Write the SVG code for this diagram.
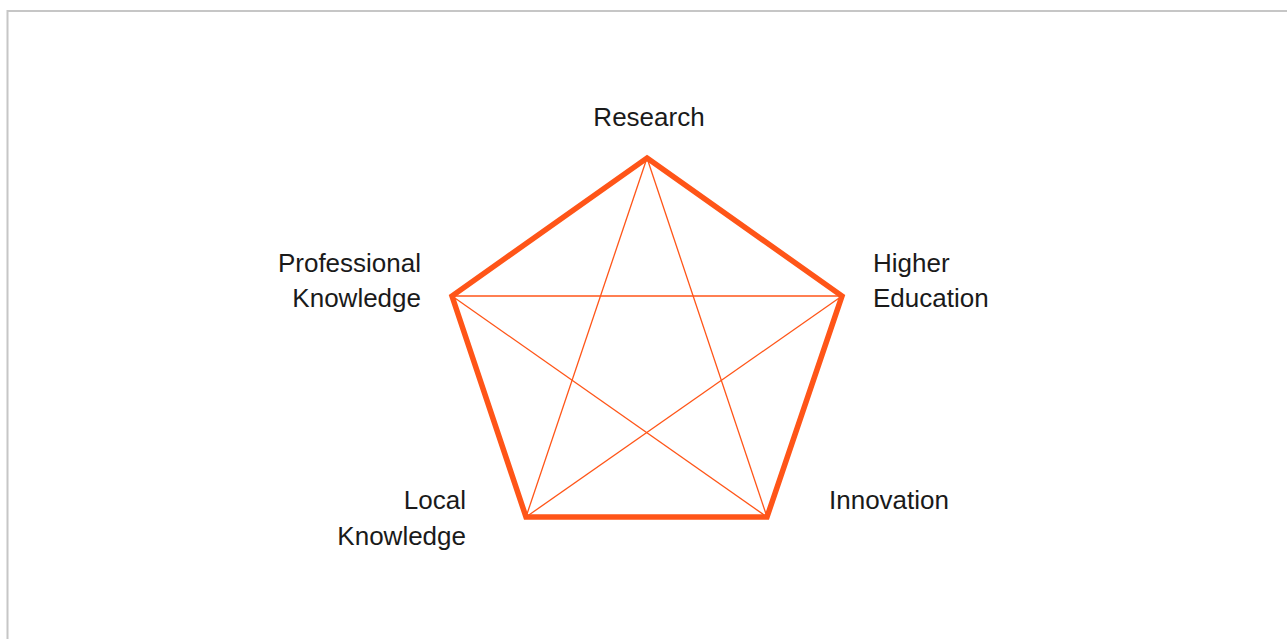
<svg xmlns="http://www.w3.org/2000/svg" width="1287" height="639" viewBox="0 0 1287 639">
<style>
.lbl{font-family:"Liberation Sans",Arial,sans-serif;font-size:26px;fill:#1a1a1a}
.thick{fill:none;stroke:#ff5518;stroke-width:5.5;stroke-linejoin:miter}
.thin{stroke:#ff5518;stroke-width:1.3;fill:none}
</style>
<rect x="0" y="0" width="1287" height="639" fill="#ffffff"/>
<path d="M7.5,645 V11 H1295" fill="none" stroke="#c6c6c6" stroke-width="2"/>
<g id="connectors">
<line class="thin" x1="647" y1="158" x2="526" y2="517"/>
<line class="thin" x1="647" y1="158" x2="767" y2="517"/>
<line class="thin" x1="452" y1="296" x2="842" y2="296"/>
<line class="thin" x1="452" y1="296" x2="767" y2="517"/>
<line class="thin" x1="842" y1="296" x2="526" y2="517"/>
<polygon class="thick" points="647,158 842,296 767,517 526,517 452,296"/>
</g>
<g id="research"><text class="lbl" x="649" y="126" text-anchor="middle">Research</text></g>
<g id="professional"><text class="lbl" x="421" y="272" text-anchor="end">Professional</text><text class="lbl" x="421" y="307" text-anchor="end">Knowledge</text></g>
<g id="higher"><text class="lbl" x="873" y="272">Higher</text><text class="lbl" x="873" y="307">Education</text></g>
<g id="local"><text class="lbl" x="466" y="509" text-anchor="end">Local</text><text class="lbl" x="466" y="545" text-anchor="end">Knowledge</text></g>
<g id="innovation"><text class="lbl" x="829" y="509">Innovation</text></g>
</svg>
